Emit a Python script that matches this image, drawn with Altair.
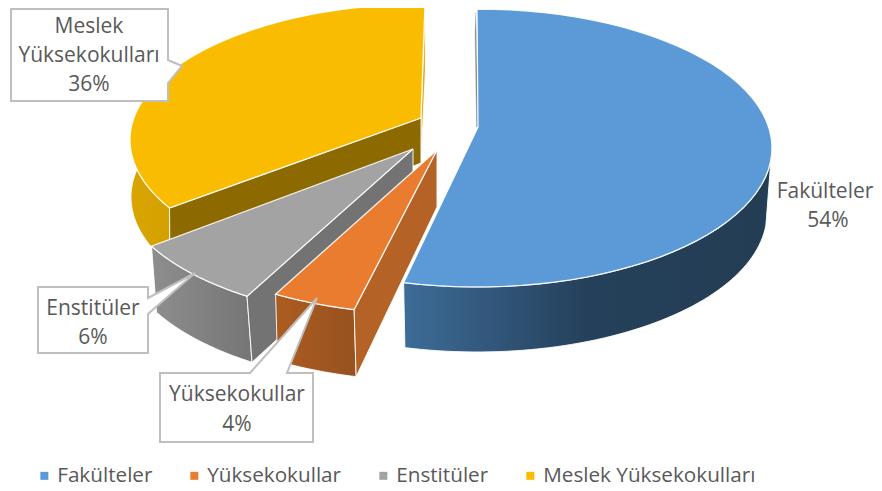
import numpy as np
import pandas as pd
import altair as alt

CATEGORIES = ["Fakülteler", "Yüksekokullar", "Enstitüler", "Meslek Yüksekokulları"]
SHARES = [54, 4, 6, 36]
TOP_COLORS = ["#5B9AD6", "#EA7C30", "#A3A3A3", "#FABC00"]

# view: pixel-like scale of the figure
X_SCALE = alt.Scale(domain=[8, 874], range=[0, 866], nice=False, zero=False)
Y_SCALE = alt.Scale(domain=[8, 488], range=[0, 480], nice=False, zero=False)
FONT = "Open Sans"
TXT = "#595959"

# projection of each exploded slice: ellipse centre, radii, apex, depth, and
# the perspective skew (degrees) on each boundary angle
RX, RY = 295, 139
cum = np.cumsum([0] + SHARES) * 3.6
GEOM = {
    0: dict(c=(477, 148), r=(RX, RY), apex=(478, 127), low=(477, 213), lr=(290, 139), sk=(0, 0)),
    1: dict(c=(427.5, 175), r=(RX, RY), apex=(437, 150), low=(429.5, 242), lr=(RX, RY), sk=(0, 2.2)),
    2: dict(c=(412, 181), r=(RX, RY), apex=(413, 149), low=(417, 247), lr=(RX, RY), sk=(5.2, 11.6)),
    3: dict(c=(425, 140), r=(RX, 136), apex=(421, 118), low=(422, 197), lr=(291, 136), sk=(9.6, 0)),
}


def rim(c, r, a0, a1, n=60):
    t = np.radians(np.linspace(a0, a1, n))
    return list(zip(c[0] + r[0] * np.sin(t), c[1] - r[1] * np.cos(t)))


def poly(points, fill, stroke="#FFFFFF", sw=1.0, so=0.9):
    df = pd.DataFrame(points, columns=["x", "y"])
    df["i"] = range(len(df))
    return alt.Chart(df).mark_line(
        fill=fill, stroke=stroke, strokeWidth=sw, strokeOpacity=so, interpolate="linear-closed"
    ).encode(
        x=alt.X("x:Q", scale=X_SCALE, axis=None),
        y=alt.Y("y:Q", scale=Y_SCALE, axis=None),
        order=alt.Order("i:Q"),
    )


def grad(stops):
    return alt.Gradient(
        gradient="linear", x1=0, x2=1, y1=0, y2=0,
        stops=[alt.GradientStop(offset=o, color=c) for o, c in stops],
    )


def angles(k):
    g = GEOM[k]
    return cum[k] + g["sk"][0], cum[k + 1] + g["sk"][1]


def top_face(k):
    g = GEOM[k]
    a0, a1 = angles(k)
    return poly([g["apex"]] + rim(g["c"], g["r"], a0, a1), TOP_COLORS[k], sw=1.3)


def outer_wall(k, a0, a1, fill):
    g = GEOM[k]
    return poly(rim(g["c"], g["r"], a0, a1) + rim(g["low"], g["lr"], a1, a0), fill, sw=1.0)


def cut_wall(k, angle, apex_low, fill, rim_low=None):
    g = GEOM[k]
    t = rim(g["c"], g["r"], angle, angle, 1)[0]
    b = rim_low or rim(g["low"], g["lr"], angle, angle, 1)[0]
    return poly([g["apex"], t, b, apex_low], fill, sw=1.0)


layers = []

# Meslek Yüksekokulları
a0, a1 = angles(3)
layers.append(outer_wall(3, a0, 285, grad([(0, "#D9A500"), (1, "#D4A000")])))
layers.append(cut_wall(3, 360, (421, 163), "#DDB020", rim_low=(425.5, 69)))
layers.append(cut_wall(3, a0, (421, 163), "#8C6A00"))
layers.append(top_face(3))

# Enstitüler
a0, a1 = angles(2)
layers.append(outer_wall(2, a0, a1, grad([(0, "#8E8E8E"), (1, "#757575")])))
layers.append(cut_wall(2, a0, (413, 215), "#737373"))
layers.append(top_face(2))

# Yüksekokullar
a0, a1 = angles(1)
layers.append(outer_wall(1, a0, a1, grad([(0, "#AC5C20"), (1, "#97521F")])))
layers.append(cut_wall(1, a0, (437, 207), "#B56226"))
layers.append(top_face(1))

# Fakülteler
a0, a1 = angles(0)
layers.append(poly([(476, 12), (478, 127), (476.5, 127), (475, 32)], "#7F8E9C", stroke="#7F8E9C", sw=0.3))
layers.append(outer_wall(0, 95, a1, grad([(0, "#3D6C98"), (0.5, "#25405A"), (1, "#233D54")])))
layers.append(top_face(0))

# callouts
BOX = "#BFBFBF"
CALLOUTS = [
    [(11, 9), (168, 9), (168, 60), (182, 66), (168, 83), (168, 101), (11, 101)],
    [(38, 287), (148, 287), (148, 298), (195, 273), (148, 314), (148, 353), (38, 353)],
    [(160, 373), (250, 373), (317, 298), (287, 373), (313, 373), (313, 442), (160, 442)],
]
for c in CALLOUTS:
    layers.append(poly(c, "#FFFFFF", stroke=BOX, sw=2, so=1))

# text labels
LABEL_ROWS = [
    ("Fakülteler", 825, 192), ("54%", 828, 221),
    ("Meslek", 89, 27), ("Yüksekokulları", 89, 56), ("36%", 89, 85),
    ("Enstitüler", 93, 309), ("6%", 93, 338),
    ("Yüksekokullar", 237, 395), ("4%", 237, 425),
]
labels = pd.DataFrame(LABEL_ROWS, columns=["t", "x", "y"])
layers.append(
    alt.Chart(labels).mark_text(font=FONT, fontSize=21, color=TXT, align="center", baseline="middle").encode(
        x=alt.X("x:Q", scale=X_SCALE, axis=None),
        y=alt.Y("y:Q", scale=Y_SCALE, axis=None),
        text="t:N",
    )
)

# legend
legend_df = pd.DataFrame({"cat": CATEGORIES})
layers.append(
    alt.Chart(legend_df).mark_square(opacity=0).encode(
        x=alt.value(0),
        y=alt.value(0),
        color=alt.Color(
            "cat:N",
            scale=alt.Scale(domain=CATEGORIES, range=TOP_COLORS),
            legend=alt.Legend(
                title=None, orient="none", legendX=26, legendY=457, direction="horizontal", columns=4,
                symbolType="square", symbolSize=64, symbolOpacity=1, symbolStrokeWidth=0,
                labelFont=FONT, labelFontSize=20.7, labelColor=TXT, columnPadding=31, labelOffset=2.5,
                labelLimit=400,
            ),
        ),
    )
)

chart = (
    alt.layer(*layers)
    .properties(width=866, height=480, padding=0, autosize=alt.AutoSizeParams(type="none"))
    .configure_view(stroke=None)
    .resolve_scale(x="shared", y="shared")
)
chart.save("out.html", embed_options={"renderer": "svg", "actions": False})
